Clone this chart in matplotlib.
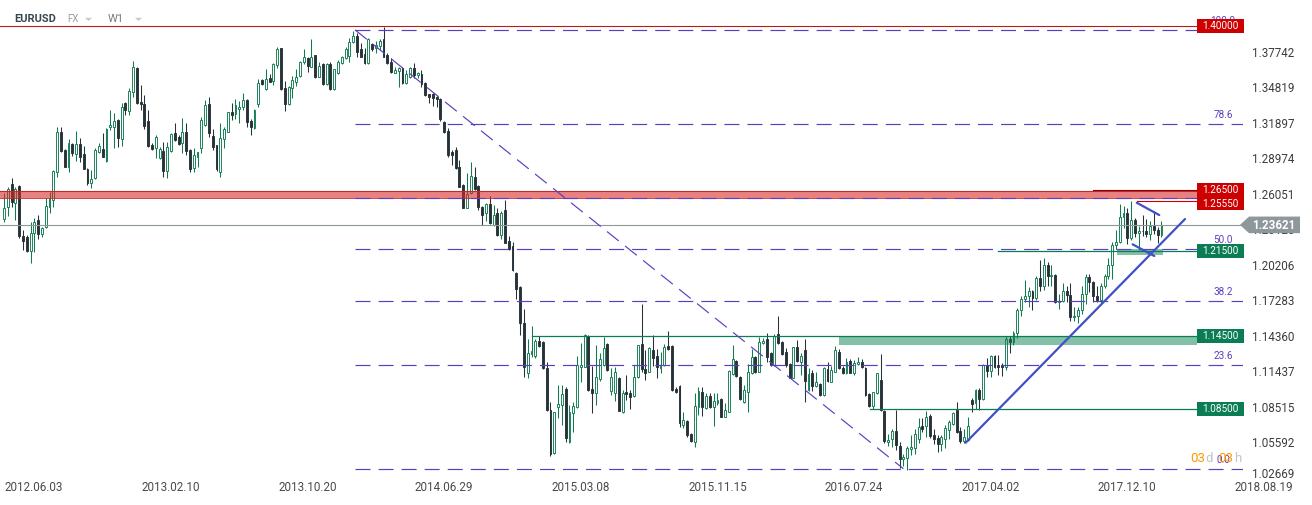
import numpy as np
import matplotlib
matplotlib.use("Agg")
import matplotlib.pyplot as plt
from matplotlib.patches import Rectangle, Polygon

# ---------------- data (weekly EURUSD candles, week 0 = 2012.06.03) ----------------
open_ = [
    1.2407, 1.2510, 1.2698, 1.2539, 1.2682, 1.2271, 1.2260, 1.2150, 1.2293, 1.2402,
    1.2284, 1.2342, 1.2506, 1.2567, 1.2800, 1.3129, 1.2978, 1.2836, 1.3027, 1.2942,
    1.3025, 1.2945, 1.2822, 1.2704, 1.2745, 1.2962, 1.2986, 1.2888, 1.3165, 1.3165,
    1.3225, 1.3066, 1.3362, 1.3302, 1.3458, 1.3650, 1.3370, 1.3354, 1.3217, 1.3019,
    1.2992, 1.2910, 1.2970, 1.2808, 1.2970, 1.3115, 1.3088, 1.3033, 1.3126, 1.2978,
    1.2833, 1.2923, 1.2992, 1.3184, 1.3357, 1.3093, 1.3019, 1.2800, 1.3066, 1.3129,
    1.3288, 1.3272, 1.3313, 1.3329, 1.3390, 1.3217, 1.3157, 1.3354, 1.3554, 1.3480,
    1.3568, 1.3549, 1.3678, 1.3815, 1.3486, 1.3354, 1.3491, 1.3541, 1.3587, 1.3705,
    1.3733, 1.3664, 1.3760, 1.3582, 1.3683, 1.3519, 1.3683, 1.3477, 1.3609, 1.3692,
    1.3733, 1.3752, 1.3870, 1.3916, 1.3807, 1.3768, 1.3691, 1.3850, 1.3815, 1.3834,
    1.3889, 1.3760, 1.3705, 1.3615, 1.3631, 1.3656, 1.3527, 1.3576, 1.3650, 1.3596,
    1.3604, 1.3532, 1.3439, 1.3439, 1.3417, 1.3395, 1.3212, 1.3135, 1.2962, 1.2978,
    1.2836, 1.2690, 1.2504, 1.2622, 1.2753, 1.2682, 1.2512, 1.2463, 1.2531, 1.2361,
    1.2463, 1.2279, 1.2485, 1.2230, 1.2189, 1.1969, 1.1854, 1.1552, 1.1141, 1.1300,
    1.1283, 1.1407, 1.1398, 1.1181, 1.0839, 1.0482, 1.0861, 1.0877, 1.1009, 1.0578,
    1.0811, 1.0861, 1.1190, 1.1195, 1.1447, 1.1011, 1.0976, 1.1091, 1.1209, 1.1379,
    1.0998, 1.0976, 1.1099, 1.0825, 1.0989, 1.0981, 1.0954, 1.1113, 1.1379, 1.1176,
    1.1154, 1.1332, 1.1283, 1.1181, 1.1209, 1.1368, 1.1365, 1.1011, 1.1036, 1.0715,
    1.0748, 1.0641, 1.0578, 1.0860, 1.0989, 1.0852, 1.0954, 1.0861, 1.0899, 1.0929,
    1.0784, 1.0825, 1.1132, 1.1244, 1.1107, 1.0902, 1.0984, 1.1140, 1.1277, 1.1154,
    1.1387, 1.1423, 1.1310, 1.1209, 1.1464, 1.1398, 1.1313, 1.1214, 1.1105, 1.1354,
    1.1236, 1.1332, 1.1003, 1.1140, 1.1039, 1.1050, 1.0962, 1.1173, 1.1072, 1.1154,
    1.1313, 1.1181, 1.1146, 1.1242, 1.1146, 1.1217, 1.1234, 1.1181, 1.0967, 1.0874,
    1.0976, 1.1085, 1.0833, 1.0578, 1.0600, 1.0665, 1.0540, 1.0435, 1.0440, 1.0518,
    1.0525, 1.0600, 1.0705, 1.0705, 1.0785, 1.0635, 1.0612, 1.0556, 1.0600, 1.0675,
    1.0725, 1.0836, 1.0665, 1.0585, 1.0595, 1.0921, 1.0893, 1.1005, 1.0926, 1.1209,
    1.1162, 1.1283, 1.1208, 1.1208, 1.1195, 1.1425, 1.1400, 1.1470, 1.1665, 1.1750,
    1.1775, 1.1820, 1.1760, 1.1925, 1.1860, 1.2035, 1.1945, 1.1950, 1.1730, 1.1735,
    1.1820, 1.1785, 1.1605, 1.1610, 1.1665, 1.1795, 1.1930, 1.1895, 1.1775, 1.1740,
    1.1860, 1.1940, 1.2030, 1.2200, 1.2220, 1.2425, 1.2460, 1.2250, 1.2405, 1.2295,
    1.2315, 1.2310, 1.2290, 1.2350, 1.2320, 1.2280]

high_ = [
    1.2622, 1.2676, 1.2748, 1.2676, 1.2690, 1.2320, 1.2279, 1.2383, 1.2420, 1.2443,
    1.2347, 1.2580, 1.2635, 1.2815, 1.3165, 1.3165, 1.2985, 1.3066, 1.3035, 1.3134,
    1.3074, 1.3014, 1.2830, 1.2814, 1.2992, 1.3033, 1.3115, 1.3162, 1.3307, 1.3285,
    1.3230, 1.3362, 1.3376, 1.3486, 1.3710, 1.3660, 1.3513, 1.3431, 1.3307, 1.3038,
    1.3102, 1.2999, 1.3047, 1.3047, 1.3115, 1.3198, 1.3102, 1.3239, 1.3198, 1.2989,
    1.2992, 1.2965, 1.3247, 1.3390, 1.3412, 1.3148, 1.3019, 1.3198, 1.3165, 1.3294,
    1.3362, 1.3395, 1.3384, 1.3445, 1.3398, 1.3231, 1.3313, 1.3560, 1.3560, 1.3642,
    1.3604, 1.3697, 1.3829, 1.3815, 1.3546, 1.3505, 1.3587, 1.3642, 1.3713, 1.3807,
    1.3746, 1.3889, 1.3760, 1.3705, 1.3697, 1.3691, 1.3705, 1.3648, 1.3719, 1.3752,
    1.3829, 1.3897, 1.3960, 1.3938, 1.3856, 1.3815, 1.3897, 1.3862, 1.3878, 1.3889,
    1.3988, 1.3779, 1.3733, 1.3664, 1.3664, 1.3664, 1.3637, 1.3664, 1.3692, 1.3620,
    1.3637, 1.3541, 1.3439, 1.3445, 1.3423, 1.3404, 1.3217, 1.3157, 1.2978, 1.3000,
    1.2896, 1.2696, 1.2786, 1.2882, 1.2836, 1.2688, 1.2518, 1.2545, 1.2600, 1.2526,
    1.2498, 1.2479, 1.2567, 1.2271, 1.2224, 1.1975, 1.1859, 1.1667, 1.1420, 1.1530,
    1.1420, 1.1448, 1.1407, 1.1236, 1.0907, 1.0825, 1.1044, 1.1044, 1.1025, 1.0880,
    1.0907, 1.1283, 1.1393, 1.1464, 1.1453, 1.1201, 1.1373, 1.1305, 1.1436, 1.1387,
    1.1181, 1.1195, 1.1113, 1.1003, 1.1127, 1.1003, 1.1206, 1.1373, 1.1711, 1.1332,
    1.1354, 1.1456, 1.1338, 1.1319, 1.1382, 1.1489, 1.1373, 1.1030, 1.1044, 1.0825,
    1.0756, 1.0647, 1.0976, 1.1030, 1.1030, 1.0976, 1.0976, 1.0981, 1.0976, 1.0935,
    1.0893, 1.1168, 1.1373, 1.1250, 1.1118, 1.1044, 1.1217, 1.1338, 1.1283, 1.1442,
    1.1434, 1.1469, 1.1319, 1.1464, 1.1612, 1.1406, 1.1346, 1.1223, 1.1360, 1.1415,
    1.1305, 1.1420, 1.1181, 1.1168, 1.1154, 1.1063, 1.1195, 1.1236, 1.1201, 1.1365,
    1.1338, 1.1201, 1.1264, 1.1255, 1.1250, 1.1277, 1.1255, 1.1195, 1.0976, 1.0989,
    1.1146, 1.1299, 1.0839, 1.0640, 1.0679, 1.0838, 1.0578, 1.0480, 1.0540, 1.0630,
    1.0685, 1.0775, 1.0775, 1.0830, 1.0805, 1.0680, 1.0630, 1.0630, 1.0715, 1.0760,
    1.0825, 1.0902, 1.0700, 1.0680, 1.0780, 1.0940, 1.1010, 1.1020, 1.1215, 1.1270,
    1.1290, 1.1295, 1.1295, 1.1225, 1.1445, 1.1445, 1.1490, 1.1680, 1.1777, 1.1910,
    1.1850, 1.1825, 1.1940, 1.2070, 1.2092, 1.2060, 1.2035, 1.1960, 1.1790, 1.1880,
    1.1860, 1.1880, 1.1690, 1.1690, 1.1860, 1.1960, 1.1960, 1.1900, 1.1862, 1.1880,
    1.1960, 1.2090, 1.2220, 1.2320, 1.2537, 1.2520, 1.2505, 1.2555, 1.2415, 1.2355,
    1.2445, 1.2410, 1.2390, 1.2475, 1.2345, 1.2395]

low_ = [
    1.2388, 1.2435, 1.2512, 1.2402, 1.2251, 1.2155, 1.2136, 1.2045, 1.2136, 1.2243,
    1.2265, 1.2334, 1.2457, 1.2512, 1.2759, 1.2965, 1.2836, 1.2800, 1.2929, 1.2888,
    1.2882, 1.2822, 1.2690, 1.2663, 1.2737, 1.2951, 1.2918, 1.2882, 1.3143, 1.2997,
    1.3000, 1.3014, 1.3266, 1.3266, 1.3417, 1.3354, 1.3307, 1.3151, 1.3006, 1.2978,
    1.2910, 1.2901, 1.2753, 1.2745, 1.2965, 1.3055, 1.3019, 1.2951, 1.2937, 1.2800,
    1.2800, 1.2841, 1.2956, 1.3176, 1.3088, 1.2978, 1.2808, 1.2759, 1.2992, 1.3124,
    1.3225, 1.3231, 1.3203, 1.3307, 1.3170, 1.3102, 1.3151, 1.3329, 1.3513, 1.3472,
    1.3535, 1.3513, 1.3650, 1.3472, 1.3302, 1.3346, 1.3403, 1.3505, 1.3582, 1.3686,
    1.3623, 1.3659, 1.3571, 1.3576, 1.3513, 1.3513, 1.3472, 1.3472, 1.3604, 1.3686,
    1.3724, 1.3705, 1.3856, 1.3746, 1.3741, 1.3686, 1.3686, 1.3796, 1.3779, 1.3801,
    1.3741, 1.3686, 1.3609, 1.3609, 1.3499, 1.3521, 1.3521, 1.3568, 1.3568, 1.3575,
    1.3494, 1.3425, 1.3368, 1.3340, 1.3335, 1.3220, 1.3121, 1.2924, 1.2855, 1.2822,
    1.2671, 1.2498, 1.2498, 1.2616, 1.2649, 1.2485, 1.2361, 1.2397, 1.2369, 1.2353,
    1.2273, 1.2246, 1.2210, 1.2156, 1.1985, 1.1749, 1.1456, 1.1113, 1.1099, 1.1278,
    1.1270, 1.1360, 1.1174, 1.0833, 1.0463, 1.0476, 1.0770, 1.0715, 1.0572, 1.0570,
    1.0660, 1.0852, 1.1072, 1.1190, 1.0998, 1.0817, 1.0880, 1.1080, 1.1201, 1.1159,
    1.0962, 1.0913, 1.0828, 1.0811, 1.0921, 1.0847, 1.0948, 1.1105, 1.1154, 1.1085,
    1.1148, 1.1201, 1.1105, 1.1140, 1.1201, 1.1332, 1.0998, 1.0981, 1.0701, 1.0688,
    1.0619, 1.0578, 1.0537, 1.0797, 1.0789, 1.0847, 1.0852, 1.0710, 1.0880, 1.0778,
    1.0778, 1.0819, 1.1124, 1.1113, 1.0921, 1.0893, 1.0819, 1.1135, 1.1146, 1.1148,
    1.1382, 1.1236, 1.1201, 1.1201, 1.1382, 1.1291, 1.1195, 1.1099, 1.1099, 1.1236,
    1.1127, 1.0907, 1.0995, 1.0995, 1.1030, 1.0954, 1.0956, 1.1072, 1.1066, 1.1148,
    1.1176, 1.1135, 1.1135, 1.1140, 1.1127, 1.1209, 1.1181, 1.0954, 1.0866, 1.0847,
    1.0970, 1.0830, 1.0564, 1.0545, 1.0537, 1.0509, 1.0358, 1.0380, 1.0345, 1.0470,
    1.0480, 1.0570, 1.0660, 1.0620, 1.0610, 1.0560, 1.0495, 1.0500, 1.0525, 1.0600,
    1.0715, 1.0650, 1.0570, 1.0570, 1.0580, 1.0820, 1.0850, 1.0840, 1.0920, 1.1110,
    1.1110, 1.1185, 1.1130, 1.1120, 1.1170, 1.1310, 1.1370, 1.1430, 1.1612, 1.1728,
    1.1690, 1.1660, 1.1740, 1.1820, 1.1825, 1.1860, 1.1860, 1.1717, 1.1670, 1.1730,
    1.1730, 1.1575, 1.1570, 1.1555, 1.1630, 1.1710, 1.1810, 1.1730, 1.1730, 1.1720,
    1.1840, 1.1920, 1.1915, 1.2165, 1.2210, 1.2335, 1.2205, 1.2235, 1.2260, 1.2155,
    1.2270, 1.2260, 1.2240, 1.2285, 1.2215, 1.2260]

close_ = [
    1.2498, 1.2655, 1.2553, 1.2654, 1.2271, 1.2232, 1.2147, 1.2298, 1.2388, 1.2284,
    1.2334, 1.2517, 1.2580, 1.2805, 1.3129, 1.2973, 1.2841, 1.3033, 1.2951, 1.3025,
    1.2923, 1.2824, 1.2704, 1.2737, 1.2978, 1.3011, 1.2923, 1.3154, 1.3181, 1.3220,
    1.3074, 1.3335, 1.3307, 1.3461, 1.3658, 1.3362, 1.3354, 1.3178, 1.3014, 1.2984,
    1.3082, 1.2989, 1.2808, 1.3006, 1.3110, 1.3060, 1.3025, 1.3123, 1.2973, 1.2819,
    1.2934, 1.2959, 1.3225, 1.3349, 1.3115, 1.3006, 1.2822, 1.3074, 1.3148, 1.3288,
    1.3266, 1.3349, 1.3335, 1.3390, 1.3211, 1.3170, 1.3307, 1.3527, 1.3519, 1.3560,
    1.3541, 1.3686, 1.3807, 1.3477, 1.3354, 1.3499, 1.3554, 1.3582, 1.3705, 1.3741,
    1.3669, 1.3741, 1.3576, 1.3669, 1.3519, 1.3683, 1.3477, 1.3642, 1.3700, 1.3741,
    1.3807, 1.3870, 1.3916, 1.3787, 1.3746, 1.3691, 1.3889, 1.3807, 1.3842, 1.3878,
    1.3746, 1.3691, 1.3617, 1.3637, 1.3656, 1.3527, 1.3604, 1.3650, 1.3596, 1.3609,
    1.3521, 1.3431, 1.3417, 1.3404, 1.3395, 1.3231, 1.3129, 1.2937, 1.2937, 1.2827,
    1.2677, 1.2504, 1.2614, 1.2764, 1.2655, 1.2512, 1.2443, 1.2534, 1.2375, 1.2443,
    1.2279, 1.2463, 1.2216, 1.2161, 1.1991, 1.1832, 1.1552, 1.1195, 1.1305, 1.1324,
    1.1407, 1.1366, 1.1182, 1.0839, 1.0476, 1.0819, 1.0885, 1.0970, 1.0605, 1.0819,
    1.0871, 1.1206, 1.1209, 1.1456, 1.1003, 1.0976, 1.1113, 1.1258, 1.1346, 1.1168,
    1.1107, 1.1148, 1.0833, 1.0976, 1.0967, 1.0948, 1.1107, 1.1371, 1.1179, 1.1140,
    1.1346, 1.1269, 1.1195, 1.1209, 1.1354, 1.1340, 1.1003, 1.0989, 1.0734, 1.0756,
    1.0633, 1.0586, 1.0874, 1.0995, 1.0866, 1.0954, 1.0861, 1.0913, 1.0921, 1.0784,
    1.0839, 1.1159, 1.1255, 1.1118, 1.0929, 1.1003, 1.1148, 1.1272, 1.1151, 1.1395,
    1.1406, 1.1277, 1.1209, 1.1450, 1.1393, 1.1299, 1.1209, 1.1105, 1.1354, 1.1244,
    1.1283, 1.1080, 1.1132, 1.1039, 1.1066, 1.0962, 1.1181, 1.1080, 1.1168, 1.1329,
    1.1181, 1.1146, 1.1231, 1.1146, 1.1228, 1.1234, 1.1190, 1.0962, 1.0874, 1.0984,
    1.1140, 1.0835, 1.0582, 1.0595, 1.0668, 1.0550, 1.0432, 1.0449, 1.0523, 1.0534,
    1.0641, 1.0696, 1.0682, 1.0778, 1.0625, 1.0597, 1.0556, 1.0614, 1.0688, 1.0742,
    1.0811, 1.0660, 1.0583, 1.0614, 1.0707, 1.0885, 1.1003, 1.0926, 1.1209, 1.1162,
    1.1283, 1.1190, 1.1192, 1.1192, 1.1425, 1.1400, 1.1470, 1.1665, 1.1750, 1.1775,
    1.1820, 1.1760, 1.1925, 1.1860, 1.2035, 1.1945, 1.1950, 1.1730, 1.1735, 1.1820,
    1.1785, 1.1605, 1.1610, 1.1665, 1.1795, 1.1930, 1.1895, 1.1775, 1.1740, 1.1860,
    1.1940, 1.2030, 1.2200, 1.2220, 1.2425, 1.2460, 1.2250, 1.2405, 1.2295, 1.2315,
    1.2310, 1.2290, 1.2350, 1.2320, 1.2280, 1.2362]

date_labels = ["2012.06.03", "2013.02.10", "2013.10.20", "2014.06.29", "2015.03.08",
               "2015.11.15", "2016.07.24", "2017.04.02", "2017.12.10", "2018.08.19"]
date_label_weeks = [0, 36, 72, 108, 144, 180, 216, 252, 288, 324]

price_tick_labels = ["1.37742", "1.34819", "1.31897", "1.28974", "1.26051", "1.23128",
                     "1.20206", "1.17283", "1.14360", "1.11437", "1.08515", "1.05592", "1.02669"]
price_tick_values = [1.37742, 1.34819, 1.31897, 1.28974, 1.26051, 1.23128,
                     1.20206, 1.17283, 1.14360, 1.11437, 1.08515, 1.05592, 1.02669]

current_price = 1.23621

fib_high = 1.3967
fib_low = 1.0355
fib_start_week = 92.5
fib_end_week = 237.0
fib_pcts = [0.0, 23.6, 38.2, 50.0, 61.8, 78.6, 100.0]
fib_texts = ["0.0", "23.6", "38.2", "50.0", "", "78.6", "100.0"]   # 61.8 label hidden by boxes

level_prices = [1.40000, 1.26500, 1.25550, 1.21500, 1.14500, 1.08500]
level_texts = ["1.40000", "1.26500", "1.25550", "1.21500", "1.14500", "1.08500"]
level_kinds = ["red", "red", "red", "green", "green", "green"]

red_zone = (1.2582, 1.2642)
green_zone_1145 = (1.1375, 1.1450)
green_zone_1215 = (1.2114, 1.2161)

trend_weeks = [253.4, 311.2]
trend_prices = [1.0569, 1.2410]
pennant_upper_weeks = [298.5, 304.4]
pennant_upper_prices = [1.2544, 1.2443]
pennant_lower_weeks = [297.4, 303.1]
pennant_lower_prices = [1.2202, 1.2106]

# ---------------- styling ----------------
plt.rcParams['font.family'] = ['Roboto', 'DejaVu Sans']
plt.rcParams['lines.scale_dashes'] = False

W, H = 1312, 505
GREEN = '#0f7b4e'
DARK = '#263238'
PURPLE = '#5b3fc2'
RED = '#cc0000'
LGREEN = '#0b7d54'
GREY = '#8e979c'
BLUE = '#3f51c4'
DASH = (0, (10.8, 5.8))

fig = plt.figure(figsize=(W / 100, H / 100), dpi=100)
fig.patch.set_facecolor('white')
AX_R, AX_B = 1243, 478
ax = fig.add_axes([0, 1 - AX_B / H, AX_R / W, AX_B / H])
ax.set_facecolor('white')
for s in ax.spines.values():
    s.set_visible(False)
ax.set_xticks([])
ax.set_yticks([])
ax.set_xlim(-1.054, 326.48)
ax.set_ylim(1.02787, 1.42129)

XR = 326.48       # right edge in week units
XBOX = 314.4      # left edge of the level boxes


def y_of(p):
    return H - ax.transData.transform((0, p))[1]


def ftext(x, ytop, s, **kw):
    fig.text(x / W, 1 - ytop / H, s, **kw)


def frect(x0, ytop0, w, h, **kw):
    fig.add_artist(Rectangle((x0 / W, 1 - (ytop0 + h) / H), w / W, h / H,
                             transform=fig.transFigure, **kw))


def fpoly(pts, **kw):
    fig.add_artist(Polygon([(x / W, 1 - y / H) for x, y in pts], closed=True,
                           transform=fig.transFigure, **kw))


# ---------------- candles ----------------
o = np.array(open_)
c = np.array(close_)
hi = np.array(high_)
lo = np.array(low_)
idx = np.arange(len(c))
up = c >= o
cols = np.where(up, GREEN, DARK)
ax.vlines(idx, lo, hi, colors=cols, lw=0.75, zorder=2)
bottoms = np.minimum(o, c)
heights = np.maximum(np.abs(c - o), 0.0004)
ax.bar(idx, heights, bottom=bottoms, width=0.5,
       color=np.where(up, 'white', DARK), edgecolor=cols, linewidth=0.65, zorder=3)

# ---------------- zones and levels ----------------
ax.add_patch(Rectangle((-2, red_zone[0]), XBOX + 2, red_zone[1] - red_zone[0],
                       facecolor=(0.85, 0.15, 0.15), alpha=0.58, lw=0, zorder=4))
ax.plot([-2, XBOX], [red_zone[1]] * 2, color='#c62828', lw=0.8, zorder=4)
ax.plot([-2, XBOX], [red_zone[0]] * 2, color='#c62828', lw=0.6, zorder=4)
ax.plot([287, XBOX], [level_prices[1]] * 2, color='#8b0000', lw=0.8, zorder=5)
ax.plot([298.5, XBOX], [level_prices[2]] * 2, color=RED, lw=0.8, zorder=5)
ax.plot([-2, XBOX], [level_prices[0]] * 2, color='#b71c1c', lw=0.8, zorder=5)

ax.add_patch(Rectangle((220.0, green_zone_1145[0]), XBOX - 220.0,
                       green_zone_1145[1] - green_zone_1145[0],
                       facecolor='#0a8050', alpha=0.5, lw=0, zorder=4))
ax.add_patch(Rectangle((293.3, green_zone_1215[0]), 305.4 - 293.3,
                       green_zone_1215[1] - green_zone_1215[0],
                       facecolor='#0a8050', alpha=0.5, lw=0, zorder=4))
ax.plot([139.0, XBOX], [level_prices[4]] * 2, color=LGREEN, lw=0.9, zorder=5)
ax.plot([228.2, XBOX], [level_prices[5]] * 2, color=LGREEN, lw=0.9, zorder=5)
ax.plot([261.9, XBOX], [level_prices[3]] * 2, color=LGREEN, lw=0.9, zorder=5)

ax.plot([-2, XR], [current_price] * 2, color=GREY, lw=0.8, zorder=5)

# fibonacci retracement
rng = fib_high - fib_low
for pct in fib_pcts:
    p = fib_low + pct / 100.0 * rng
    ax.plot([fib_start_week, XR], [p, p], color=PURPLE, lw=0.85, ls=DASH, zorder=5)
ax.plot([fib_start_week, fib_end_week], [fib_high, fib_low], color=PURPLE, lw=0.85,
        ls=DASH, zorder=5)

# trend lines
ax.plot(trend_weeks, trend_prices, color=BLUE, lw=1.6, zorder=6, solid_capstyle='round')
ax.plot(pennant_upper_weeks, pennant_upper_prices, color=BLUE, lw=1.6, zorder=6,
        solid_capstyle='round')
ax.plot(pennant_lower_weeks, pennant_lower_prices, color=BLUE, lw=1.6, zorder=6,
        solid_capstyle='round')

# ---------------- fib labels ----------------
for pct, t in zip(fib_pcts, fib_texts):
    if not t:
        continue
    p = fib_low + pct / 100.0 * rng
    ftext(1223, y_of(p) - 9, t, color=PURPLE, fontsize=7.2, ha='center', va='center',
          zorder=7)

# ---------------- level boxes ----------------
prev = -100
for p, t, k in zip(level_prices, level_texts, level_kinds):
    yc = y_of(p)
    if yc < prev + 13.5:
        yc = prev + 13.5
    prev = yc
    frect(1196.5, yc - 7, 47, 14, facecolor=RED if k == 'red' else LGREEN,
          edgecolor='none', zorder=8)
    ftext(1220, yc + 0.3, t, color='white', fontsize=7.2, ha='center', va='center',
          zorder=9)

# ---------------- price axis labels ----------------
for v, t in zip(price_tick_values, price_tick_labels):
    yc = min(y_of(v), 474)
    ftext(1252, yc, t, color='#3c3c3c', fontsize=8.4, ha='left', va='center', zorder=7)

# current price tag
yc = y_of(current_price)
fpoly([(1240, yc), (1249, yc - 8.3), (1300, yc - 8.3), (1300, yc + 8.3), (1249, yc + 8.3)],
      facecolor=GREY, edgecolor='none', zorder=8)
ftext(1274, yc + 0.3, "1.23621", color='white', fontsize=8.4, fontweight='bold',
      ha='center', va='center', zorder=9)

# ---------------- date labels ----------------
for wk, t in zip(date_label_weeks, date_labels):
    x = ax.transData.transform((wk, 0))[0]
    ftext(x + 1, 487.5, t, color='#4a4a4a', fontsize=8.4, ha='left', va='center')

# ---------------- countdown ----------------
ftext(1190, 459, "03", color='#ff9800', fontsize=9.5, ha='left', va='center', zorder=9)
ftext(1205.5, 459, "d", color='#c4c4c4', fontsize=9.5, ha='left', va='center', zorder=9)
ftext(1218, 459, "03", color='#ff9800', fontsize=9.5, ha='left', va='center', zorder=9)
ftext(1234, 459, "h", color='#c4c4c4', fontsize=9.5, ha='left', va='center', zorder=9)

# ---------------- header ----------------
ftext(14, 19.5, "EURUSD", color='#37474f', fontsize=8, fontweight='bold', ha='left',
      va='center', zorder=9)
ftext(67, 19.5, "FX", color='#9e9e9e', fontsize=7, ha='left', va='center', zorder=9)
fpoly([(85, 17.8), (92, 17.8), (88.5, 21)], facecolor='#c8c8c8', edgecolor='none', zorder=9)
ftext(108, 19.5, "W1", color='#7a7a7a', fontsize=8, ha='left', va='center', zorder=9)
fpoly([(135, 17.8), (142, 17.8), (138.5, 21)], facecolor='#c8c8c8', edgecolor='none', zorder=9)

fig.savefig("out.png", dpi=100, facecolor='white')
